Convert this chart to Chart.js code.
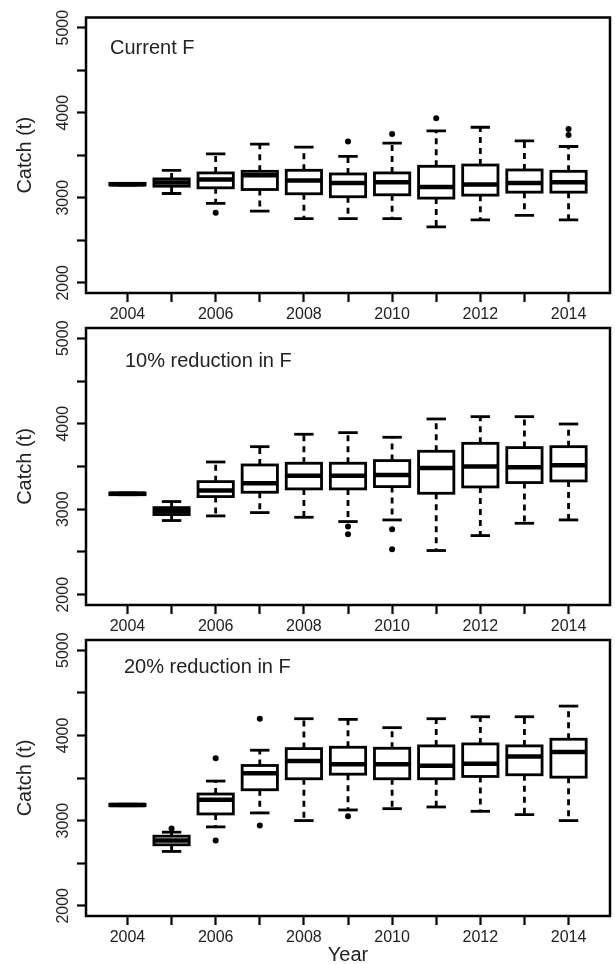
<!DOCTYPE html>
<html><head><meta charset="utf-8">
<script src="https://cdn.jsdelivr.net/npm/chart.js@4.4.0/dist/chart.umd.min.js"></script>
<style>
html,body{margin:0;padding:0;background:#fff;width:615px;height:964px;overflow:hidden;position:relative;}
canvas{position:absolute;left:0;}
</style></head><body>
<canvas id="c1" width="615" height="326" style="top:0px;width:615px;height:326px"></canvas>
<canvas id="c2" width="615" height="330" style="top:310px;width:615px;height:330px"></canvas>
<canvas id="c3" width="615" height="344" style="top:620px;width:615px;height:344px"></canvas>
<script>
// ---- data ----
const years = [2004, 2005, 2006, 2007, 2008, 2009, 2010, 2011, 2012, 2013, 2014];
const xTickLabels = ['2004', '', '2006', '', '2008', '', '2010', '', '2012', '', '2014'];
const yTickValues = [2000, 2500, 3000, 3500, 4000, 4500, 5000];
const yTickLabels = ['2000', '', '3000', '', '4000', '', '5000'];
const panelLabels = ['Current F', '10% reduction in F', '20% reduction in F'];
const yTitle = 'Catch (t)';
const xTitle = 'Year';

// Current F
const curLo  = [3150, 3050, 2934, 2844, 2755, 2755, 2755, 2658, 2739, 2794, 2739];
const curQ1  = [3150, 3136, 3117, 3097, 3047, 3012, 3035, 2996, 3031, 3066, 3066];
const curMed = [3160, 3179, 3214, 3265, 3202, 3175, 3183, 3128, 3156, 3175, 3183];
const curQ3  = [3170, 3222, 3292, 3311, 3323, 3280, 3292, 3370, 3385, 3327, 3311];
const curHi  = [3170, 3323, 3517, 3630, 3595, 3486, 3642, 3786, 3829, 3669, 3603];
const curOut = [[2006, 2825], [2009, 3661], [2010, 3751], [2011, 3934], [2014, 3809], [2014, 3739]];

// 10% reduction in F
const r10Lo  = [3170, 2868, 2922, 2961, 2906, 2856, 2875, 2517, 2692, 2836, 2875];
const r10Q1  = [3170, 2938, 3148, 3199, 3238, 3238, 3265, 3187, 3261, 3312, 3331];
const r10Med = [3180, 2977, 3218, 3304, 3393, 3393, 3401, 3483, 3499, 3491, 3514];
const r10Q3  = [3190, 3019, 3323, 3518, 3538, 3538, 3569, 3678, 3771, 3721, 3732];
const r10Hi  = [3190, 3090, 3553, 3732, 3877, 3896, 3842, 4056, 4083, 4083, 3997];
const r10Out = [[2009, 2797], [2009, 2708], [2010, 2766], [2010, 2532]];

// 20% reduction in F
const r20Lo  = [3175, 2638, 2926, 3090, 3000, 3125, 3140, 3160, 3109, 3070, 3000];
const r20Q1  = [3175, 2716, 3078, 3362, 3491, 3545, 3491, 3491, 3518, 3538, 3510];
const r20Med = [3183, 2766, 3245, 3557, 3701, 3662, 3662, 3643, 3666, 3752, 3806];
const r20Q3  = [3192, 2817, 3312, 3647, 3845, 3861, 3849, 3877, 3900, 3877, 3955];
const r20Hi  = [3192, 2864, 3464, 3826, 4196, 4188, 4091, 4196, 4219, 4219, 4344];
const r20Out = [[2005, 2906], [2006, 3732], [2006, 2766], [2007, 4196], [2007, 2942], [2009, 3051]];

// ---- drawing ----
const FONT = '"Liberation Sans", Arial, Helvetica, sans-serif';
const TEXT = '#222';

const boxPlugin = {
  id: 'boxes',
  beforeDatasetsDraw(chart, args, o) {
    const {ctx} = chart;
    const xs = chart.scales.x, ys = chart.scales.y;
    ctx.save();
    ctx.beginPath();
    ctx.rect(chart.chartArea.left, chart.chartArea.top, chart.chartArea.right - chart.chartArea.left, chart.chartArea.bottom - chart.chartArea.top);
    ctx.clip();
    ctx.strokeStyle = '#000';
    ctx.lineCap = 'butt';
    const line = (x1, y1, x2, y2) => { ctx.beginPath(); ctx.moveTo(x1, y1); ctx.lineTo(x2, y2); ctx.stroke(); };
    years.forEach((yr, i) => {
      const cx = xs.getPixelForValue(yr);
      const half = (xs.getPixelForValue(yr + 0.4) - xs.getPixelForValue(yr - 0.4)) / 2;
      const capHalf = (xs.getPixelForValue(yr + 0.22) - xs.getPixelForValue(yr - 0.22)) / 2;
      const pLo = ys.getPixelForValue(o.lo[i]), pQ1 = ys.getPixelForValue(o.q1[i]);
      const pMed = ys.getPixelForValue(o.med[i]), pQ3 = ys.getPixelForValue(o.q3[i]);
      const pHi = ys.getPixelForValue(o.hi[i]);
      ctx.lineWidth = 2.8;
      ctx.setLineDash([6, 5]);
      if (pHi < pQ3) line(cx, pQ3, cx, pHi);
      if (pLo > pQ1) line(cx, pQ1, cx, pLo);
      ctx.setLineDash([]);
      line(cx - capHalf, pHi, cx + capHalf, pHi);
      line(cx - capHalf, pLo, cx + capHalf, pLo);
      ctx.fillStyle = '#fff';
      ctx.fillRect(cx - half, pQ3, 2 * half, pQ1 - pQ3);
      ctx.strokeRect(cx - half, pQ3, 2 * half, pQ1 - pQ3);
      ctx.lineWidth = 4.5;
      line(cx - half, pMed, cx + half, pMed);
    });
    ctx.restore();
  },
  afterDraw(chart, args, o) {
    const {ctx, chartArea: a} = chart;
    ctx.save();
    ctx.strokeStyle = '#000';
    ctx.lineWidth = 2.5;
    ctx.strokeRect(a.left, a.top, a.right - a.left, a.bottom - a.top);
    ctx.fillStyle = TEXT;
    ctx.font = '20px ' + FONT;
    ctx.textBaseline = 'alphabetic';
    ctx.textAlign = 'left';
    ctx.fillText(o.label, a.left + o.labelDx, a.top + o.labelDy);
    ctx.restore();
  }
};

function makeChart(id, lo, q1, med, q3, hi, out, label, labelDx, labelDy, padTop, xAxisH, showXTitle) {
  const canvas = document.getElementById(id);
  return new Chart(canvas, {
    type: 'scatter',
    data: {
      datasets: [{
        data: out.map(p => ({x: p[0], y: p[1]})),
        pointRadius: 3,
        pointHoverRadius: 3,
        backgroundColor: '#000',
        borderWidth: 0
      }]
    },
    options: {
      responsive: false,
      animation: false,
      events: [],
      layout: {padding: {top: padTop, right: 5, left: 0, bottom: 0}},
      plugins: {
        legend: {display: false},
        tooltip: {enabled: false},
        boxes: {lo, q1, med, q3, hi, label, labelDx, labelDy}
      },
      scales: {
        x: {
          type: 'linear',
          min: 2003.06,
          max: 2014.94,
          afterBuildTicks(s) { s.ticks = years.map(v => ({value: v})); },
          afterFit(s) { s.height = xAxisH; },
          border: {display: false},
          grid: {display: true, drawOnChartArea: false, drawTicks: true, tickLength: 9, tickWidth: 2.2, tickColor: '#000', color: '#000'},
          ticks: {
            autoSkip: false, maxRotation: 0, minRotation: 0,
            padding: 3, color: TEXT, font: {family: FONT, size: 16},
            callback: (v) => { const k = years.indexOf(v); return k >= 0 ? xTickLabels[k] : ''; }
          },
          title: {display: showXTitle, text: xTitle, color: TEXT, font: {family: FONT, size: 20, lineHeight: 1}, padding: {top: 0, bottom: -1}}
        },
        y: {
          type: 'linear',
          min: 1880,
          max: 5120,
          afterBuildTicks(s) { s.ticks = yTickValues.map(v => ({value: v})); },
          afterFit(s) { s.width = 86; },
          border: {display: false},
          grid: {display: true, drawOnChartArea: false, drawTicks: true, tickLength: 9, tickWidth: 2.2, tickColor: '#000', color: '#000'},
          ticks: {
            autoSkip: false, minRotation: 90, maxRotation: 90,
            crossAlign: 'center', padding: -4, color: TEXT, font: {family: FONT, size: 16},
            callback: (v) => { const k = yTickValues.indexOf(v); return k >= 0 ? yTickLabels[k] : ''; }
          },
          title: {display: true, text: yTitle, color: TEXT, font: {family: FONT, size: 20, lineHeight: 1}, padding: {top: 15, bottom: 0}}
        }
      }
    },
    plugins: [boxPlugin]
  });
}

makeChart('c1', curLo, curQ1, curMed, curQ3, curHi, curOut, panelLabels[0], 24, 36.5, 17.5, 33, false);
makeChart('c2', r10Lo, r10Q1, r10Med, r10Q3, r10Hi, r10Out, panelLabels[1], 39, 39, 18, 35, false);
makeChart('c3', r20Lo, r20Q1, r20Med, r20Q3, r20Hi, r20Out, panelLabels[2], 38, 33, 20, 48, true);
</script>
</body></html>
